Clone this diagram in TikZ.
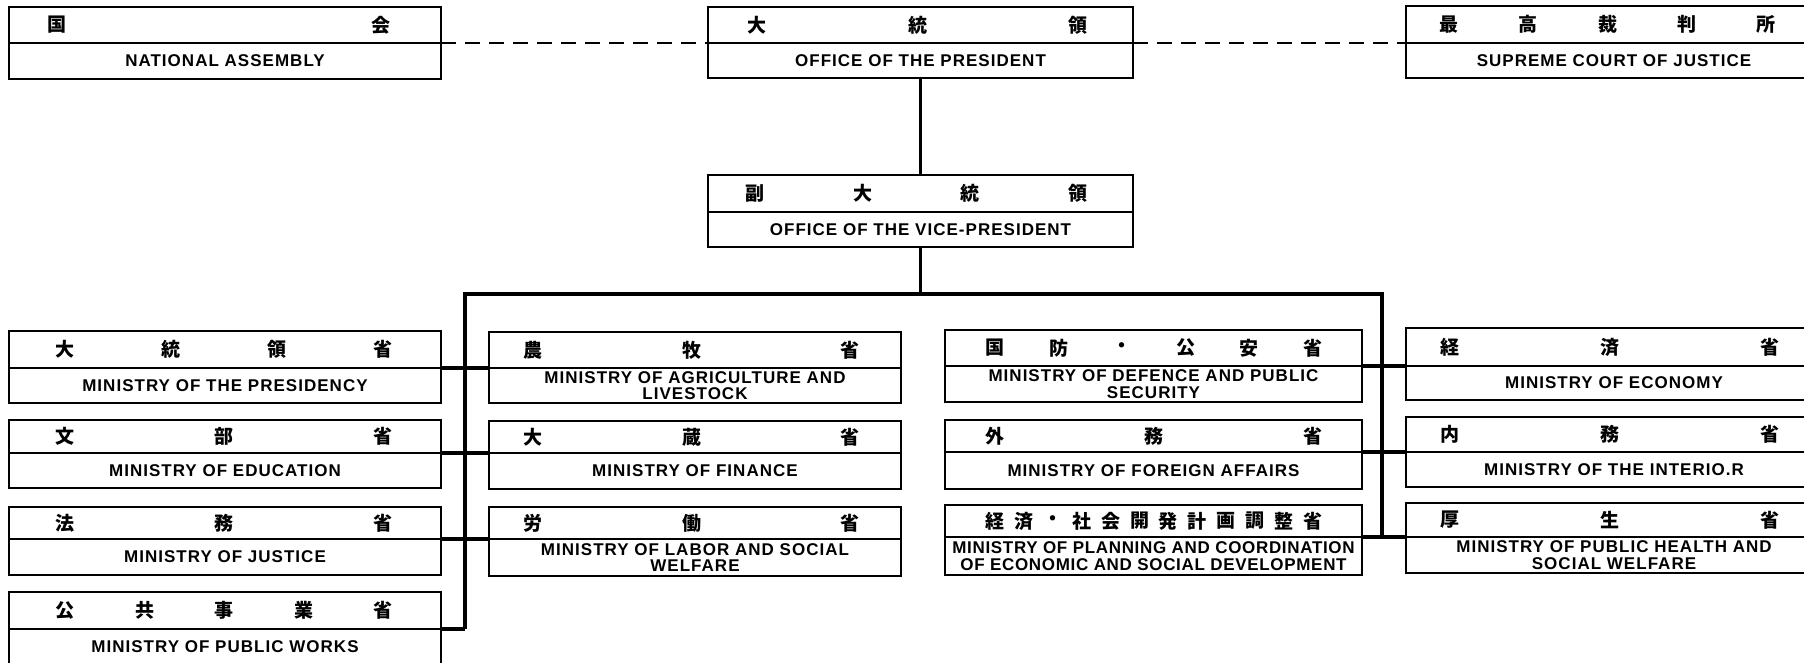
\documentclass[tikz,border=0pt]{standalone}
\usepackage{fontspec}
\setmainfont{Liberation Sans}
\newfontfamily\enfont{Liberation Sans}[LetterSpace=6]
\newfontfamily\enfontn{Liberation Sans}[LetterSpace=4]
\newfontfamily\jfont{Noto Sans CJK JP}
\tikzset{
  ebox/.style={draw, line width=1.6pt, inner sep=0pt, outer sep=0pt, align=center,
    font=\enfont\bfseries\fontsize{17}{16.5}\selectfont},
  jbox/.style={draw, line width=1.6pt, inner sep=0pt, outer sep=0pt},
  jch/.style={font=\jfont\bfseries\fontsize{19}{19}\selectfont, inner sep=0pt},
  link/.style={line width=3.2pt, line join=miter},
  dlink/.style={line width=1.4pt, dash pattern=on 15pt off 9pt},
}
% name, left, right, top, divider, bottom, extra style, english text
\newcommand\obox[8]{%
  \pgfmathsetmacro\bw{#3-#2}%
  \pgfmathsetmacro\bh{#6-#5}%
  \pgfmathsetmacro\jh{#5-#4}%
  \node[ebox, #7, anchor=north west, minimum width=\bw pt, minimum height=\bh pt] (#1) at (#2,#5) {#8};
  \node[jbox, anchor=south west, minimum width=\bw pt, minimum height=\jh pt] (#1j) at (#1.north west) {};
}
% prefix, first x, last x, y, count, list
\newcommand\jchars[6]{%
  \foreach \c [count=\i] in {#6} {%
    \pgfmathsetmacro\cx{#2+(\i-1)*(#3-#2)/(#5-1)}%
    \node[jch] (#1c\i) at (\cx,#4) {\c};
  }%
}
\begin{document}
\begin{tikzpicture}[x=1pt,y=-1pt]
\useasboundingbox (0,0) rectangle (1804,662);
\clip (0,0) rectangle (1804,662);

% top row
\obox{na}{9}{441}{7}{43}{79}{}{NATIONAL ASSEMBLY}
\jchars{na}{57}{381}{25}{2}{国,会}
\obox{pres}{708}{1133}{7}{43}{78}{}{OFFICE OF THE PRESIDENT}
\jchars{pres}{757}{1078}{25}{3}{大,統,領}
\obox{sc}{1406}{1822}{6}{43}{78}{}{SUPREME COURT OF JUSTICE}
\jchars{sc}{1449}{1766}{24.5}{5}{最,高,裁,判,所}
\obox{vp}{708}{1133}{175}{212}{247}{}{OFFICE OF THE VICE-PRESIDENT}
\jchars{vp}{755}{1078}{193.5}{4}{副,大,統,領}

% column 1
\obox{mpr}{9}{441}{331}{368}{403}{}{MINISTRY OF THE PRESIDENCY}
\jchars{mpr}{65}{383}{349.5}{4}{大,統,領,省}
\obox{edu}{9}{441}{420}{453}{488}{}{MINISTRY OF EDUCATION}
\jchars{edu}{65}{383}{436.5}{3}{文,部,省}
\obox{jus}{9}{441}{507}{539}{575}{}{MINISTRY OF JUSTICE}
\jchars{jus}{65}{383}{523}{3}{法,務,省}
\obox{pw}{9}{441}{592}{629}{665}{}{MINISTRY OF PUBLIC WORKS}
\jchars{pw}{65}{383}{610.5}{5}{公,共,事,業,省}

% column 2
\obox{agr}{489}{901}{332}{368}{403}{}{MINISTRY OF AGRICULTURE AND\\LIVESTOCK}
\jchars{agr}{533}{850}{350}{3}{農,牧,省}
\obox{fin}{489}{901}{421}{453}{489}{}{MINISTRY OF FINANCE}
\jchars{fin}{533}{850}{437}{3}{大,蔵,省}
\obox{lab}{489}{901}{507}{539}{576}{}{MINISTRY OF LABOR AND SOCIAL\\WELFARE}
\jchars{lab}{533}{850}{523}{3}{労,働,省}

% column 3
\obox{def}{945}{1362}{330}{366}{402}{}{MINISTRY OF DEFENCE AND PUBLIC\\SECURITY}
\jchars{def}{995}{1313}{348}{6}{国,防,・,公,安,省}
\obox{for}{945}{1362}{420}{452}{489}{}{MINISTRY OF FOREIGN AFFAIRS}
\jchars{for}{995}{1313}{436}{3}{外,務,省}
\obox{pln}{945}{1362}{505}{537}{575}{}{{\enfontn\bfseries MINISTRY OF PLANNING AND COORDINATION}\\{\enfontn\bfseries OF ECONOMIC AND SOCIAL DEVELOPMENT}}
\jchars{pln}{995}{1313}{521}{12}{経,済,・,社,会,開,発,計,画,調,整,省}

% column 4
\obox{eco}{1406}{1822}{328}{366}{400}{}{MINISTRY OF ECONOMY}
\jchars{eco}{1450}{1770}{347}{3}{経,済,省}
\obox{int}{1406}{1822}{417}{452}{487}{}{MINISTRY OF THE INTERIO.R}
\jchars{int}{1450}{1770}{434.5}{3}{内,務,省}
\obox{hlt}{1406}{1822}{503}{537}{573}{}{MINISTRY OF PUBLIC HEALTH AND\\SOCIAL WELFARE}
\jchars{hlt}{1450}{1770}{520}{3}{厚,生,省}

% bus
\coordinate (busL) at (465,294);
\coordinate (busR) at (1382,294);

% connectors
\draw[dlink] (na.north east) -- (pres.north west);
\draw[dlink] (pres.north east) -- (sc.north west);
\draw[link] (pres.south) -- (vpj.north);
\draw[link] (vp.south) -- (vp.south |- busL);
\draw[link] (busL |- pw.north east) -- (busL) -- (busR) -- (busR |- hlt.north west);
\draw[link] (mpr.north east) -- (agr.north west);
\draw[link] (edu.north east) -- (fin.north west);
\draw[link] (jus.north east) -- (lab.north west);
\draw[link] (pw.north east) -- (busL |- pw.north east);
\draw[link] (def.north east) -- (eco.north west);
\draw[link] (for.north east) -- (int.north west);
\draw[link] (pln.north east) -- (hlt.north west);
\end{tikzpicture}
\end{document}
